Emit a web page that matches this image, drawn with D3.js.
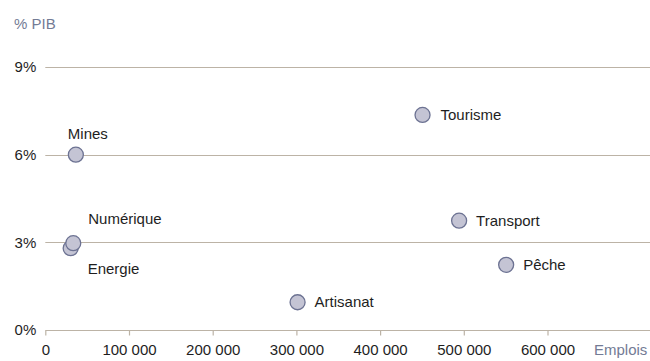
<!DOCTYPE html>
<html>
<head>
<meta charset="utf-8">
<script src="https://cdn.jsdelivr.net/npm/d3@7"></script>
<style>
  body { margin: 0; background: #fff; }
  svg { display: block; font-family: "Liberation Sans", Arial, Helvetica, sans-serif; }
</style>
</head>
<body>
<svg id="chart" width="650" height="361"></svg>
<script>
// Secteurs : emplois et part du PIB
const sectors = ["Tourisme", "Mines", "Numérique", "Energie", "Transport", "Pêche", "Artisanat"];
const jobs    = [450700, 36500, 33400, 30300, 494400, 550600, 301400];
const gdpPct  = [7.36, 6.0, 2.97, 2.8, 3.74, 2.23, 0.95];

const xTicks = [0, 100000, 200000, 300000, 400000, 500000, 600000];
const yTicks = [0, 3, 6, 9];

// Label placement per sector (offset from the point)
const labelOffsets = {
  "Tourisme":  [18, 0, "start"],
  "Mines":     [-8, -21, "start"],
  "Numérique": [15, -24, "start"],
  "Energie":   [17, 21, "start"],
  "Transport": [17, 0, "start"],
  "Pêche":     [17, 0, "start"],
  "Artisanat": [17, 0, "start"]
};

const svg = d3.select("#chart");
const W = 650;
const fontSize = "15px";

const x = d3.scaleLinear().domain([0, 100000]).range([45.3, 129.0]);
const y = d3.scaleLinear().domain([0, 9]).range([330, 67]);

const gridColor = "#bcb3a6";
const mutedText = "#737b95";

// Horizontal gridlines with percentage labels
const yAxis = d3.axisLeft(y).tickValues(yTicks).tickSize(0).tickPadding(9)
  .tickFormat(d => d + "%");
const gy = svg.append("g").attr("transform", `translate(${x(0)},0)`).call(yAxis);
gy.select(".domain").remove();
gy.selectAll("text").attr("fill", "#1e1e1e").style("font-size", fontSize)
  .attr("font-family", null);
gy.attr("font-family", null).attr("font-size", null);
svg.append("g").selectAll("line").data(yTicks).join("line")
  .attr("x1", x(0)).attr("x2", W)
  .attr("y1", d => Math.round(y(d)) + 0.5).attr("y2", d => Math.round(y(d)) + 0.5)
  .attr("stroke", gridColor).attr("stroke-width", 1.2);

// Bottom axis ticks and labels
const xAxis = d3.axisBottom(x).tickValues(xTicks).tickSize(5).tickPadding(9)
  .tickFormat(d => d === 0 ? "0" : d3.format(",")(d).replace(/,/g, " "));
const gx = svg.append("g").attr("transform", `translate(0,${Math.round(y(0)) + 0.5})`).call(xAxis);
gx.select(".domain").remove();
gx.attr("font-family", null).attr("font-size", null);
gx.selectAll("line").attr("stroke", gridColor).attr("stroke-width", 1.2);
gx.selectAll("text").attr("fill", "#1e1e1e").style("font-size", fontSize)
  .attr("font-family", null);

// Axis titles
svg.append("text").attr("x", 14).attr("y", 29).text("% PIB")
  .attr("fill", mutedText).style("font-size", fontSize);
svg.append("text").attr("x", 594).attr("y", 355).text("Emplois")
  .attr("fill", mutedText).style("font-size", fontSize);

// Points
const data = sectors.map((s, i) => ({ s, j: jobs[i], p: gdpPct[i] }));
const drawOrder = data.slice().sort((a, b) => a.p - b.p);
svg.append("g").selectAll("circle").data(drawOrder).join("circle")
  .attr("cx", d => x(d.j)).attr("cy", d => y(d.p)).attr("r", 7.5)
  .attr("fill", "#c4c4d4").attr("stroke", "#6c7292").attr("stroke-width", 1.3);

// Sector labels
svg.append("g").selectAll("text").data(data).join("text")
  .attr("x", d => x(d.j) + labelOffsets[d.s][0])
  .attr("y", d => y(d.p) + labelOffsets[d.s][1])
  .attr("dy", "0.35em")
  .attr("text-anchor", d => labelOffsets[d.s][2])
  .attr("fill", "#1e1e1e").style("font-size", fontSize)
  .text(d => d.s);
</script>
</body>
</html>
